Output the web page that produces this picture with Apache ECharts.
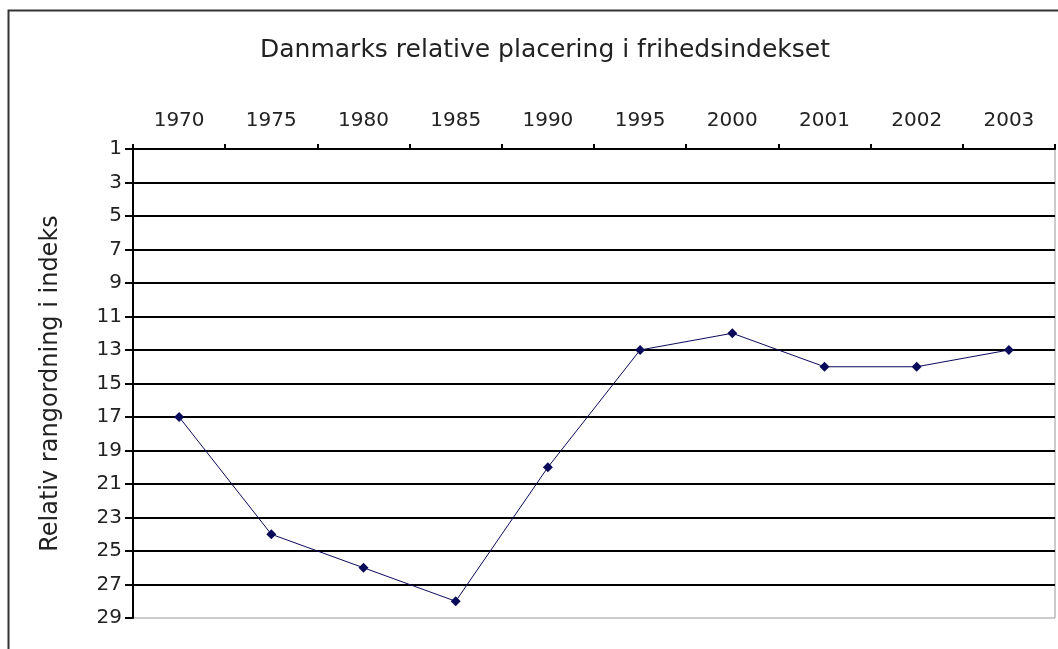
<!DOCTYPE html>
<html>
<head>
<meta charset="utf-8">
<script src="https://cdn.jsdelivr.net/npm/echarts@6/dist/echarts.min.js"></script>
<style>
  html, body { margin: 0; padding: 0; background: #fff; }
  #chart { width: 1058px; height: 649px; }
</style>
</head>
<body>
<div id="chart"></div>
<script>
// år og Danmarks placering
const years = ['1970', '1975', '1980', '1985', '1990', '1995', '2000', '2001', '2002', '2003'];
const placering = [17, 24, 26, 28, 20, 13, 12, 14, 14, 13];
const rankMin = 1;
const rankMax = 29;
const rankStep = 2;

const chart = echarts.init(document.getElementById('chart'));
const font = 'DejaVu Sans, Verdana, sans-serif';

chart.setOption({
    animation: false,
    backgroundColor: '#fff',
    title: {
        text: 'Danmarks relative placering i frihedsindekset',
        left: 540,
        top: 33,
        textAlign: 'center',
        textStyle: { fontFamily: font, fontSize: 25, fontWeight: 'normal', color: '#222' },
    },
    // ramme om hele diagrammet
    graphic: [{
        type: 'rect',
        shape: { x: 8.5, y: 10.5, width: 1200, height: 800 },
        style: { fill: 'none', stroke: '#333', lineWidth: 2 },
        silent: true,
    }],
    grid: {
        left: 133, right: 3, top: 149, bottom: 31,
        show: true, borderColor: '#999', borderWidth: 1,
    },
    xAxis: {
        type: 'category',
        position: 'top',
        data: years,
        boundaryGap: true,
        axisLine: { lineStyle: { color: '#000', width: 2 } },
        axisTick: { show: true, length: 5, lineStyle: { color: '#000', width: 2 } },
        axisLabel: { fontFamily: font, fontSize: 20, color: '#222', margin: 18 },
        splitLine: { show: false },
    },
    yAxis: {
        type: 'value',
        inverse: true,
        min: rankMin,
        max: rankMax,
        interval: rankStep,
        name: 'Relativ rangordning i indeks',
        nameLocation: 'middle',
        nameGap: 70,
        nameRotate: 90,
        nameTextStyle: { fontFamily: font, fontSize: 24, color: '#222' },
        axisLine: { show: true, lineStyle: { color: '#000', width: 2 } },
        axisTick: { show: true, length: 8, lineStyle: { color: '#000', width: 2 } },
        axisLabel: { fontFamily: font, fontSize: 20, color: '#222', margin: 11 },
        splitLine: { show: true, showMinLine: false, showMaxLine: false, lineStyle: { color: '#000', width: 2 } },
    },
    series: [{
        type: 'line',
        data: placering,
        symbol: 'diamond',
        symbolSize: 10,
        lineStyle: { color: '#0a0a5a', width: 1 },
        itemStyle: { color: '#0a0a5a' },
    }],
});
</script>
</body>
</html>
